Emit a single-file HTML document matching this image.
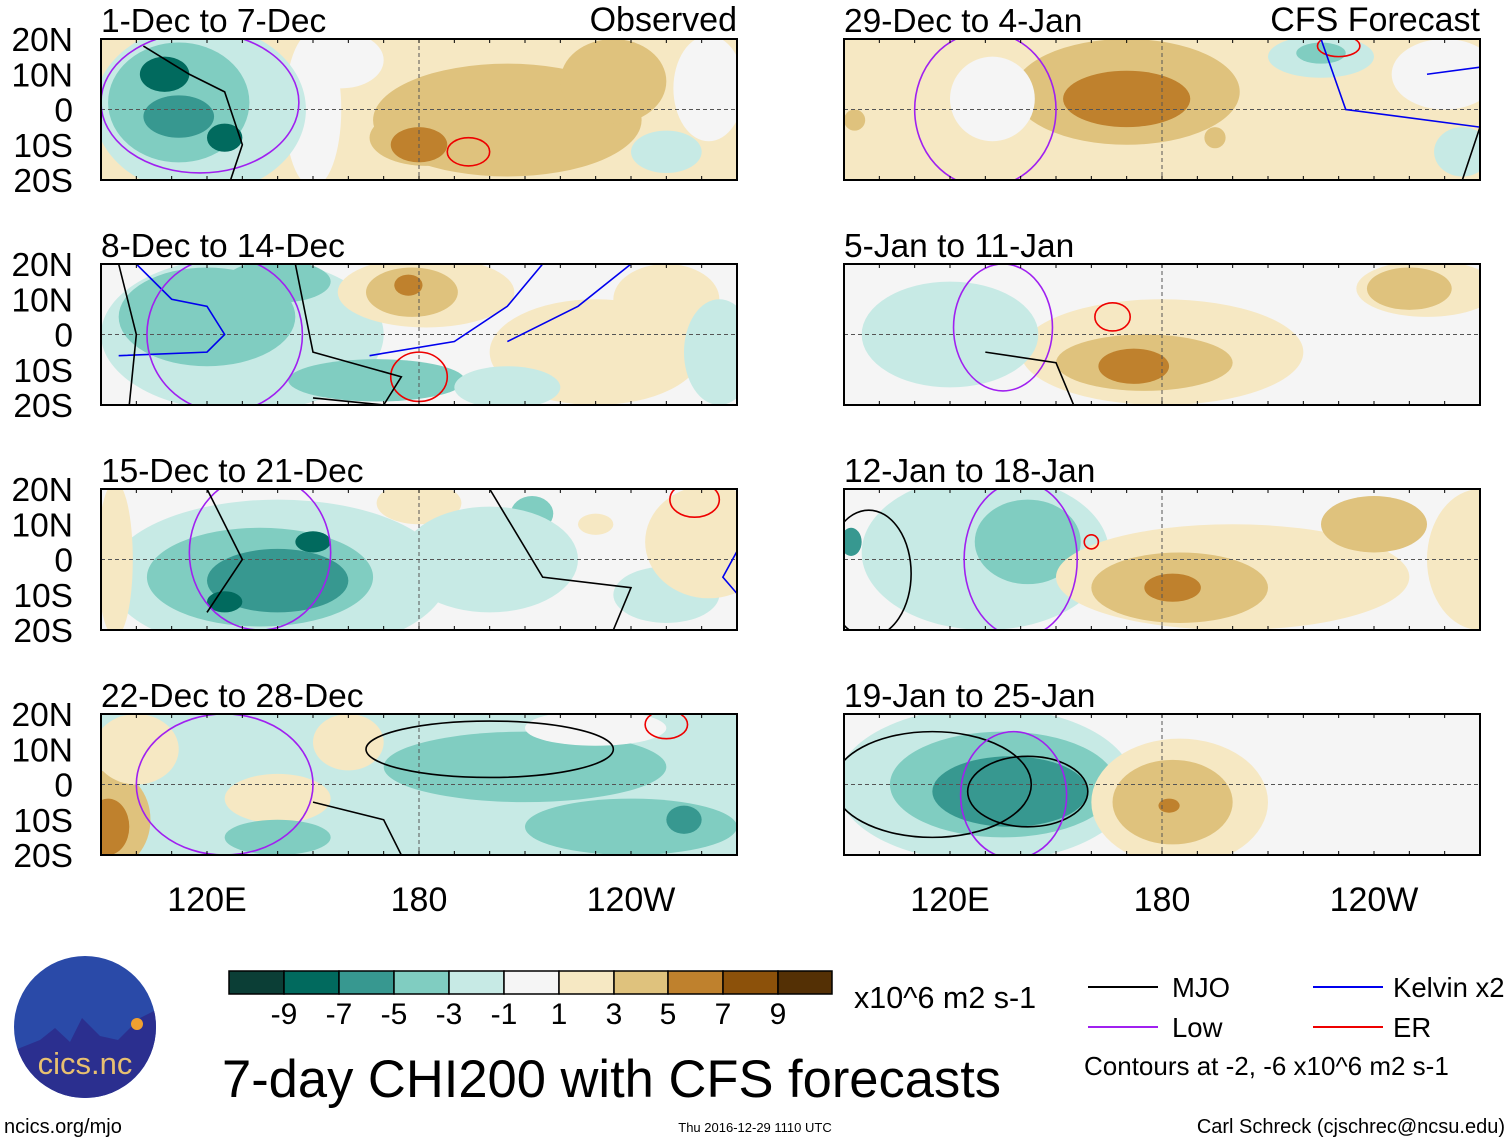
<!DOCTYPE html>
<html><head><meta charset="utf-8"><style>
body{margin:0;background:#fff;}
svg text{font-family:"Liberation Sans",Arial,sans-serif;fill:#000;}
</style></head><body>
<svg id="s" width="1510" height="1142" viewBox="0 0 1510 1142" xmlns="http://www.w3.org/2000/svg"></svg>
<script>
const levels=[-9,-7,-5,-3,-1,1,3,5,7,9];
const palette=["#0b3e36","#016a5e","#379890","#80cdc1","#c7eae5","#f5f5f5","#f6e8c3","#dfc27d","#bf812d","#8c510a","#543005"];
const titles=["1-Dec to 7-Dec","8-Dec to 14-Dec","15-Dec to 21-Dec","22-Dec to 28-Dec","29-Dec to 4-Jan","5-Jan to 11-Jan","12-Jan to 18-Jan","19-Jan to 25-Jan"];
const latTicks=["20N","10N","0","10S","20S"];
const lonTicks=[[120,"120E"],[180,"180"],[240,"120W"]];
// blobs: [lon, lat, rlon, rlat, value]
const bgVals=[2,0,0,-2,2,0,0,0];
const fields=[
 [[205,-3,38,16,4],[235,8,15,12,4],[182,-8,16,8,5],[180,-10,8,5,6.5],[158,14,12,8,0],[150,0,8,22,0],[250,-12,10,6,-2],[262,6,10,15,0],[118,0,30,24,-2],[112,2,20,17,-4],[108,10,7,5,-7],[125,-8,5,4,-7],[112,-2,10,6,-6]],
 [[130,0,40,22,-2],[120,5,25,14,-4],[168,-13,25,6,-4],[140,15,15,6,-4],[182,12,25,10,2],[178,12,13,7,4],[177,14,4,3,7],[230,-5,30,15,2],[250,10,15,10,2],[265,-5,10,15,-2],[205,-15,15,6,-2]],
 [[140,-5,48,22,-2],[135,-5,32,14,-4],[140,-6,20,9,-6],[150,5,5,3,-7],[125,-12,5,3,-7],[94,0,5,22,2],[180,16,12,6,2],[212,13,6,5,-4],[200,0,25,15,-2],[250,-10,15,8,-2],[262,5,18,16,2],[230,10,5,3,2]],
 [[92,-10,12,14,4],[92,-12,6,8,6],[100,10,12,10,2],[140,-4,15,7,2],[160,12,10,8,2],[210,5,40,10,-4],[240,-12,30,8,-4],[255,-10,5,4,-6],[140,-15,15,5,-4],[230,16,20,5,0]],
 [[170,5,32,15,4],[170,3,18,8,6],[132,3,12,12,0],[225,15,15,6,-2],[225,16,7,3,-4],[260,10,15,10,0],[265,-12,8,7,-2],[93,-3,3,3,4],[195,-8,3,3,4]],
 [[180,-5,40,15,2],[175,-8,25,8,4],[172,-9,10,5,6],[255,13,20,8,2],[250,13,12,6,4],[120,0,25,15,-2]],
 [[130,2,35,22,-2],[142,5,15,12,-4],[92,5,3,4,-6],[200,-5,50,15,2],[185,-8,25,10,4],[183,-8,8,4,6],[240,10,15,8,4],[270,0,15,20,2]],
 [[130,0,42,22,-2],[135,0,32,15,-4],[137,-2,22,10,-6],[185,-5,25,18,2],[183,-5,17,12,4],[182,-6,3,2,6]]
];
// contours: ellipse [lon,lat,rlon,rlat] or polyline points, with type
const contours=[
 [["er",[194,-12,6,4]],["low",[118,2,28,20]],["mjo",[[102,18],[115,10],[125,5],[130,-10],[126,-22]]]],
 [["er",[180,-12,8,7]],["kelvin",[[100,20],[110,10],[120,8],[125,0],[120,-5],[95,-6]]],["kelvin",[[166,-6],[190,-2],[205,8],[215,20]]],["kelvin",[[205,-2],[225,8],[240,20]]],["low",[125,0,22,22]],["mjo",[[98,-20],[100,0],[95,20]]],["mjo",[[145,20],[150,-5],[175,-12],[170,-20],[150,-18]]]],
 [["er",[258,17,7,5]],["kelvin",[[272,6],[266,-5],[272,-12]]],["low",[135,2,20,22]],["mjo",[[120,20],[130,0],[120,-15]]],["mjo",[[200,20],[215,-5],[240,-8],[235,-20]]]],
 [["er",[250,17,6,4]],["low",[125,0,25,20]],["mjo",[200,10,35,8]],["mjo",[[150,-5],[170,-10],[175,-20]]]],
 [["er",[230,18,6,3]],["kelvin",[[225,20],[232,0],[270,-5]]],["kelvin",[[255,10],[270,12]]],["low",[130,0,20,22]],["mjo",[[265,-20],[270,-5]]]],
 [["er",[166,5,5,4]],["low",[135,2,14,18]],["mjo",[[130,-5],[150,-8],[155,-20]]]],
 [["er",[160,5,2,2]],["low",[140,0,16,22]],["mjo",[97,-4,12,18]]],
 [["mjo",[115,0,28,15]],["mjo",[142,-2,17,10]],["low",[138,-3,15,18]]]
];
const cc={mjo:"#000",low:"#a020f0",kelvin:"#0000ee",er:"#ee0000"};
const NS="http://www.w3.org/2000/svg",S=document.getElementById("s");
function mk(t,a,p){const e=document.createElementNS(NS,t);for(const k in a)e.setAttribute(k,a[k]);(p||S).appendChild(e);return e;}
function col(v){let i=0;while(i<levels.length&&v>levels[i])i++;return palette[i];}
const W=636,H=141,colX=[101,844],rowY=[39,264,489,714];
fields.forEach((f,pi)=>{
 const X0=colX[pi<4?0:1],Y0=rowY[pi%4];
 const xs=l=>X0+(l-90)/180*W, ys=l=>Y0+(20-l)/40*H;
 const g=mk("g",{});
 
 
 const cp=mk("clipPath",{id:"c"+pi},g);mk("rect",{x:X0,y:Y0,width:W,height:H},cp);
 const inner=mk("g",{"clip-path":"url(#c"+pi+")"},g);
 mk("rect",{x:X0,y:Y0,width:W,height:H,fill:col(bgVals[pi])},inner);
 f.forEach(b=>{const e=mk("ellipse",{cx:xs(b[0]),cy:ys(b[1]),rx:b[2]/180*W,ry:b[3]/40*H,fill:col(b[4])},inner);
  });
 mk("line",{x1:X0,x2:X0+W,y1:ys(0),y2:ys(0),stroke:"#555","stroke-dasharray":"4,3","stroke-width":1},inner);
 mk("line",{x1:xs(180),x2:xs(180),y1:Y0,y2:Y0+H,stroke:"#555","stroke-dasharray":"4,3","stroke-width":1},inner);
 contours[pi].forEach(c=>{let e;const d=c[1];
  if(typeof d[0]==="number")e=mk("ellipse",{cx:xs(d[0]),cy:ys(d[1]),rx:d[2]/180*W,ry:d[3]/40*H,fill:"none",stroke:cc[c[0]],"stroke-width":1.6},inner);
  else e=mk("polyline",{points:d.map(p=>xs(p[0])+","+ys(p[1])).join(" "),fill:"none",stroke:cc[c[0]],"stroke-width":1.6},inner);
  });
 mk("rect",{x:X0,y:Y0,width:W,height:H,fill:"none",stroke:"#000","stroke-width":2},g);
 for(let l=100;l<270;l+=10){mk("line",{x1:xs(l),x2:xs(l),y1:Y0,y2:Y0+4,stroke:"#000"},g);mk("line",{x1:xs(l),x2:xs(l),y1:Y0+H,y2:Y0+H-4,stroke:"#000"},g);}
 const t=mk("text",{x:X0,y:Y0-7,"font-size":33.5},g);t.textContent=titles[pi];
 
 if(pi<4){latTicks.forEach((s,i)=>{const tt=mk("text",{x:73,y:Y0+i*H/4+12,"font-size":33.5,"text-anchor":"end"});tt.textContent=s;
  });}
 if(pi%4==3){lonTicks.forEach(lt=>{const tt=mk("text",{x:xs(lt[0]),y:911,"font-size":34,"text-anchor":"middle"});tt.textContent=lt[1];
  });}
});
</script>
<div style="position:absolute;left:0;top:0;width:1510px;height:1142px;pointer-events:none">
<svg width="1510" height="1142" xmlns="http://www.w3.org/2000/svg" style="font-family:'Liberation Sans',Arial,sans-serif">
 <text x="737" y="31" font-size="34" text-anchor="end">Observed</text>
 <text x="1480" y="31" font-size="34" text-anchor="end">CFS Forecast</text>
 <g stroke="#000" stroke-width="1.5">
  <rect x="229" y="971" width="55" height="23" fill="#0b3e36"/><rect x="284" y="971" width="55" height="23" fill="#016a5e"/>
  <rect x="339" y="971" width="55" height="23" fill="#379890"/><rect x="394" y="971" width="55" height="23" fill="#80cdc1"/>
  <rect x="449" y="971" width="55" height="23" fill="#c7eae5"/><rect x="504" y="971" width="55" height="23" fill="#f5f5f5"/>
  <rect x="559" y="971" width="55" height="23" fill="#f6e8c3"/><rect x="614" y="971" width="54" height="23" fill="#dfc27d"/>
  <rect x="668" y="971" width="55" height="23" fill="#bf812d"/><rect x="723" y="971" width="55" height="23" fill="#8c510a"/>
  <rect x="778" y="971" width="54" height="23" fill="#543005"/>
 </g>
 <g font-size="30" text-anchor="middle">
  <text x="284" y="1024">-9</text><text x="339" y="1024">-7</text><text x="394" y="1024">-5</text><text x="449" y="1024">-3</text><text x="504" y="1024">-1</text>
  <text x="559" y="1024">1</text><text x="614" y="1024">3</text><text x="668" y="1024">5</text><text x="723" y="1024">7</text><text x="778" y="1024">9</text>
 </g>
 <text x="854" y="1008" font-size="30.5">x10^6 m2 s-1</text>
 <text x="222" y="1097" font-size="52.5">7-day CHI200 with CFS forecasts</text>
 <g font-size="27.5">
  <line x1="1088" y1="987" x2="1158" y2="987" stroke="#000" stroke-width="2"/><text x="1172" y="997">MJO</text>
  <line x1="1088" y1="1027" x2="1158" y2="1027" stroke="#a020f0" stroke-width="2"/><text x="1172" y="1037">Low</text>
  <line x1="1313" y1="987" x2="1383" y2="987" stroke="#0000ee" stroke-width="2"/><text x="1393" y="997">Kelvin x2</text>
  <line x1="1313" y1="1027" x2="1383" y2="1027" stroke="#ee0000" stroke-width="2"/><text x="1393" y="1037">ER</text>
  <text x="1084" y="1075" font-size="26">Contours at -2, -6 x10^6 m2 s-1</text>
 </g>
 <g>
  <clipPath id="lg"><circle cx="85" cy="1027" r="71"/></clipPath>
  <circle cx="85" cy="1027" r="71" fill="#2a4aa8"/>
  <g clip-path="url(#lg)">
   <path d="M10 1052 L40 1040 L55 1028 L70 1042 L82 1018 L100 1036 L118 1040 L140 1018 L160 1008 L160 1110 L10 1110Z" fill="#2b2f8f"/>
   <circle cx="137" cy="1024" r="6" fill="#f0a030"/>
  </g>
  <text x="85" y="1074" font-size="31" text-anchor="middle" style="fill:#e8c070">cics.nc</text>
 </g>
 <text x="4" y="1133" font-size="20">ncics.org/mjo</text>
 <text x="755" y="1132" font-size="13" text-anchor="middle">Thu 2016-12-29 1110 UTC</text>
 <text x="1505" y="1133" font-size="20" text-anchor="end">Carl Schreck (cjschrec@ncsu.edu)</text>
</svg></div>
</body></html>
